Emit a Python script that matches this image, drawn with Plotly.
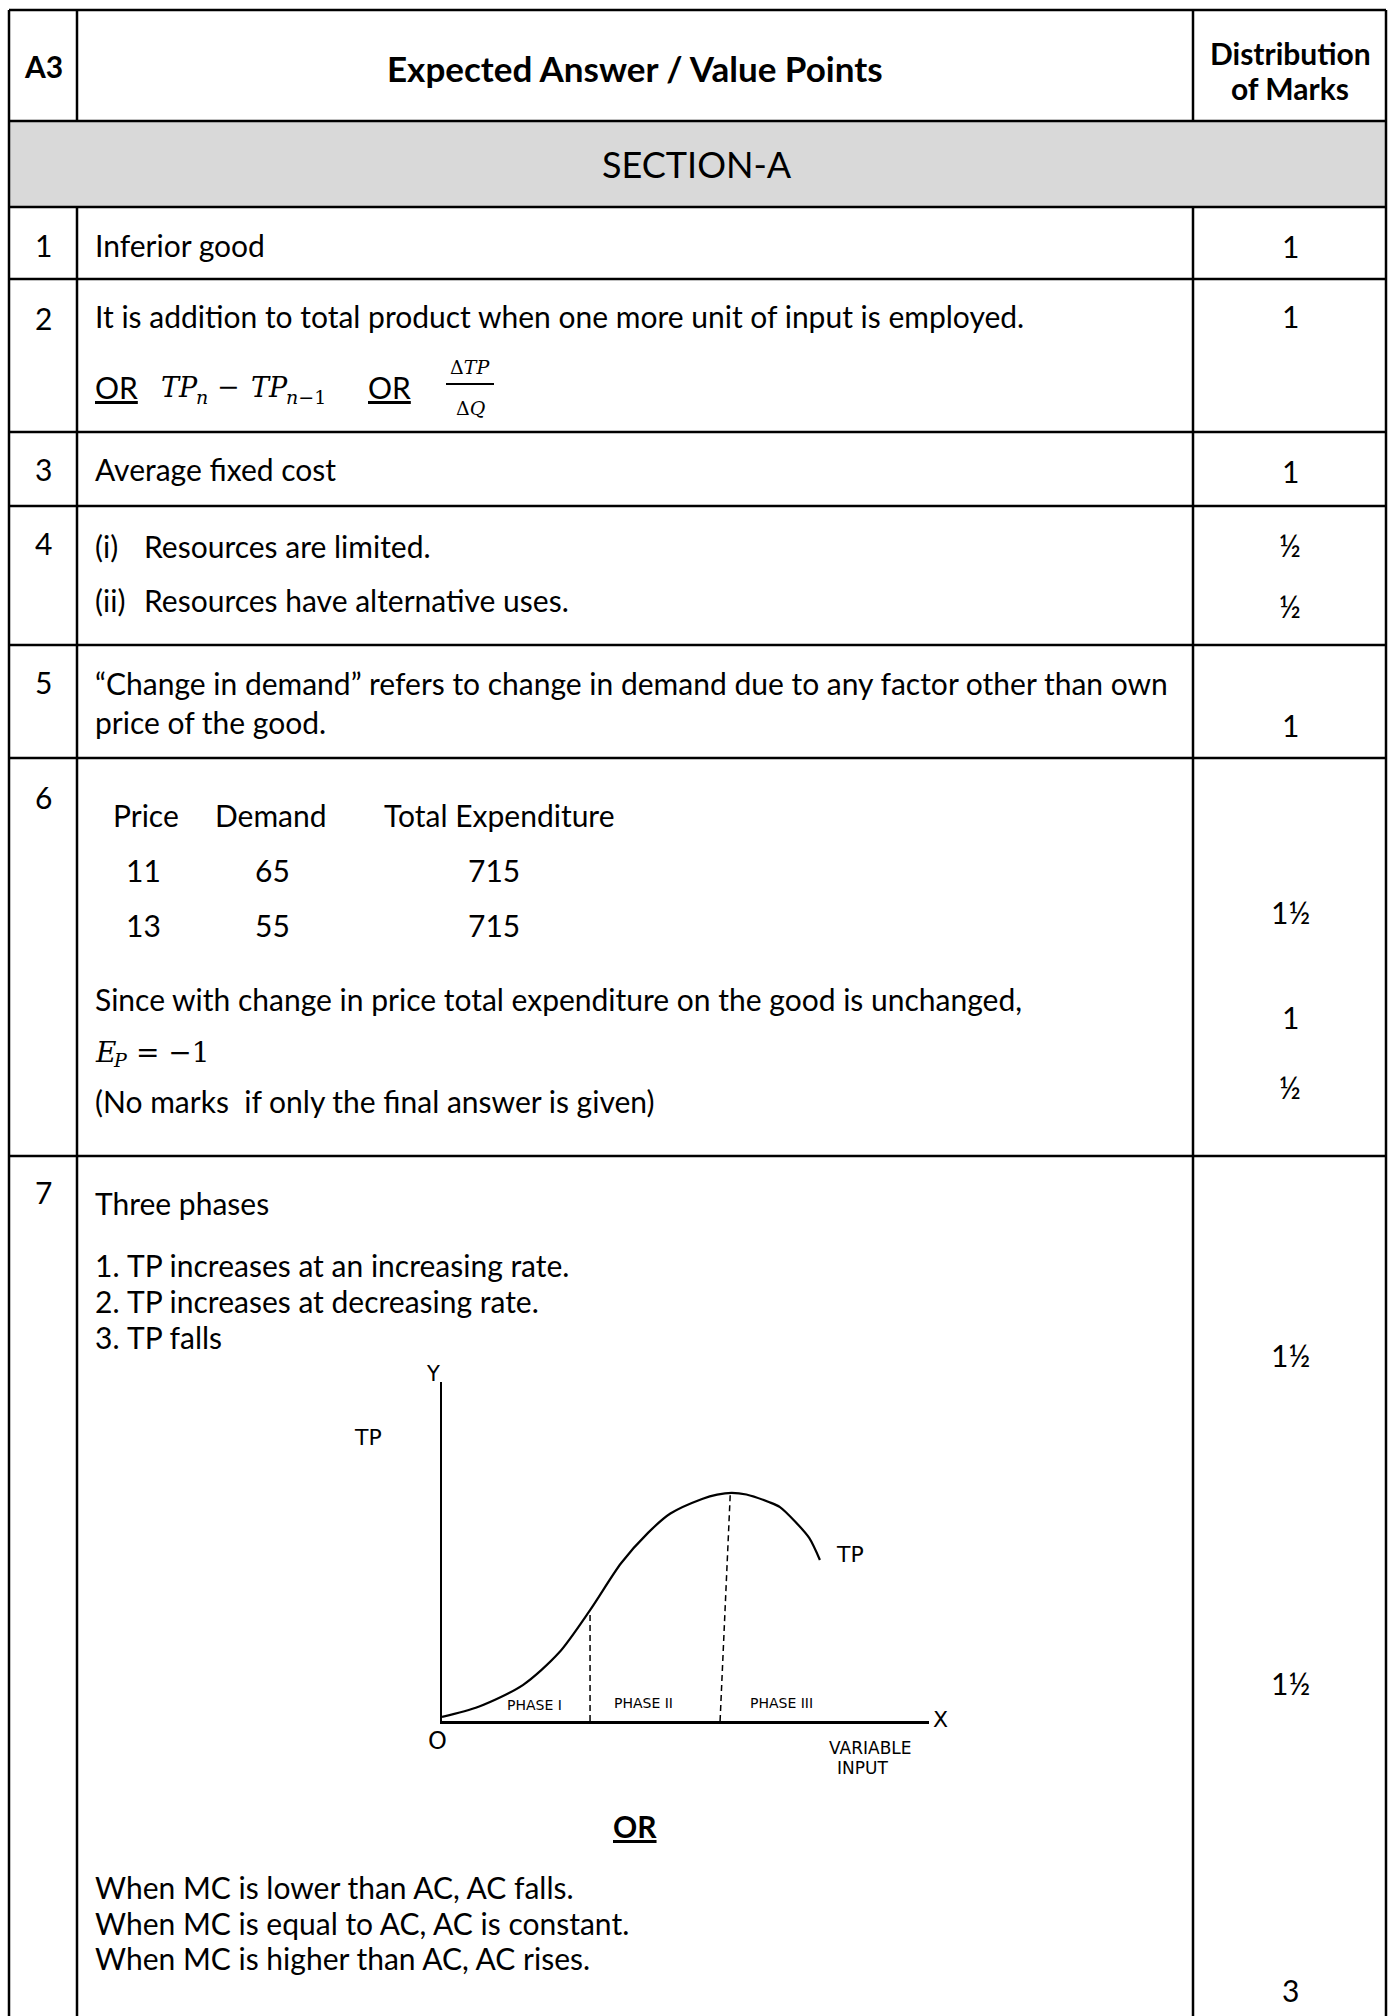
import plotly.graph_objects as go

W, H = 1391, 2016

# ---------------- data ----------------
question_nos = ["1", "2", "3", "4", "5", "6", "7"]

header_cells = ["A3", "Expected Answer / Value Points", "Distribution", "of Marks"]
section_title = "SECTION-A"

answers_simple = ["Inferior good",
                  "It is addition to total product when one more unit of input is employed.",
                  "Average fixed cost"]
q4_points = ["(i)", "(ii)"]
q4_texts = ["Resources are limited.", "Resources have alternative uses."]
q5_lines = ["\u201cChange in demand\u201d refers to change in demand due to any factor other than own",
            "price of the good."]
q6_columns = ["Price", "Demand", "Total Expenditure"]
q6_price = [11, 13]
q6_demand = [65, 55]
q6_expenditure = [715, 715]
q6_notes = ["Since with change in price total expenditure on the good is unchanged,",
            "(No marks  if only the final answer is given)"]
q7_intro = "Three phases"
q7_points = ["TP increases at an increasing rate.",
             "TP increases at decreasing rate.",
             "TP falls"]
q7_or_lines = ["When MC is lower than AC, AC falls.",
               "When MC is equal to AC, AC is constant.",
               "When MC is higher than AC, AC rises."]

marks_q1_q3 = ["1", "1", "1"]
marks_q4 = ["\u00bd", "\u00bd"]
marks_q5 = "1"
marks_q6 = ["1\u00bd", "1", "\u00bd"]
marks_q7 = ["1\u00bd", "1\u00bd", "3"]

# TP curve (variable input vs TP, arbitrary units)
tp_input = [0.0, 0.75, 1.66, 2.40, 3.04, 3.68, 4.23, 4.69, 5.34, 5.65, 5.95, 6.25, 6.71, 6.94, 7.26, 7.54, 7.76]
tp_output = [1.2, 4.2, 10.6, 20.1, 32.7, 46.6, 55.5, 61.2, 65.5, 66.8, 67.3, 66.8, 64.6, 63.1, 58.7, 54.0, 47.5]
phase_bound_base = [3.04, 5.71]
phase_bound_top = [3.04, 5.92]
phase_bound_tp = [32.7, 67.3]
phase_labels = ["PHASE I", "PHASE II", "PHASE III"]
axis_labels = ["Y", "TP", "O", "X", "VARIABLE", "INPUT"]
curve_label = "TP"

# ---------------- helpers ----------------
FONT = "Lato"
BODY = 30
MATH = "DejaVu Serif"
HAND = "DejaVu Sans"


def px(x):
    return x / W


def py(y):
    return 1 - y / H


annotations = []
shapes = []


def text(x, y, s, size=BODY, anchor="left", bold=False, family=FONT, yanchor="middle"):
    if bold:
        s = "<b>" + s + "</b>"
    annotations.append(dict(x=px(x), y=py(y), xref="paper", yref="paper", text=s,
                            showarrow=False, xanchor=anchor, yanchor=yanchor,
                            font=dict(family=family, size=size, color="black")))


def hline(y, x0, x1, w=2.5):
    shapes.append(dict(type="line", xref="paper", yref="paper", x0=px(x0), x1=px(x1),
                       y0=py(y), y1=py(y), line=dict(color="black", width=w)))


def vline(x, y0, y1, w=2.5):
    shapes.append(dict(type="line", xref="paper", yref="paper", x0=px(x), x1=px(x),
                       y0=py(y0), y1=py(y1), line=dict(color="black", width=w)))


# ---------------- table grid ----------------
XL, XC1, XC2, XR = 9, 77, 1193, 1386
TOP, HDR, SEC = 10, 121, 207
row_bottoms = [279, 432, 506, 645, 758, 1156]

shapes.append(dict(type="rect", xref="paper", yref="paper", x0=px(XL), x1=px(XR),
                   y0=py(SEC), y1=py(HDR), fillcolor="#d9d9d9", line=dict(width=0), layer="below"))
for yy in [TOP, HDR, SEC] + row_bottoms:
    hline(yy, XL, XR)
vline(XL, TOP, H)
vline(XR, TOP, H)
for xx in (XC1, XC2):
    vline(xx, TOP, HDR)
    vline(xx, SEC, H)

XN = 43          # question number column centre
XT = 93          # answer text left
XM = 1290        # marks column centre

# header
text(XN, 66, header_cells[0], size=30, anchor="center", bold=True)
text(635, 68, header_cells[1], size=35, anchor="center", bold=True)
text(XM, 53, header_cells[2], size=30, anchor="center", bold=True)
text(XM, 88, header_cells[3], size=30, anchor="center", bold=True)
text(697, 164, section_title, size=36, anchor="center")

# question numbers
q_y = [245, 318, 469, 543, 682, 797, 1192]
for q, yy in zip(question_nos, q_y):
    text(XN, yy, q, anchor="center")

# Q1-Q3
text(XT, 245, answers_simple[0])
text(XT, 316, answers_simple[1])
text(XT, 469, answers_simple[2])
for m, yy in zip(marks_q1_q3, [246, 316, 471]):
    text(XM, yy, m, anchor="center")

# Q2 formula line:  OR  TP_n - TP_(n-1)  OR  dTP/dQ
text(XT, 387, "<u>OR</u>")
text(159, 388, "<i>TP</i>", size=27, family=MATH)
text(194, 397, "<i>n</i>", size=19, family=MATH)
text(215, 387, "\u2212", size=27, family=MATH)
text(249, 388, "<i>TP</i>", size=27, family=MATH)
text(284, 397, "<i>n</i>\u22121", size=19, family=MATH)
text(366, 387, "<u>OR</u>")
text(470, 367, "\u0394<i>TP</i>", size=19, anchor="center", family=MATH)
text(470, 408, "\u0394<i>Q</i>", size=19, anchor="center", family=MATH)
hline(384, 446, 494, w=2)

# Q4
for p, t, yy in zip(q4_points, q4_texts, [546, 600]):
    text(XT, yy, p)
    text(142, yy, t)
for m, yy in zip(marks_q4, [545, 606]):
    text(XM, yy, m, anchor="center")

# Q5
text(XT, 683, q5_lines[0])
text(XT, 722, q5_lines[1])
text(XM, 725, marks_q5, anchor="center")

# Q6
for c, xx in zip(q6_columns, [111, 213, 382]):
    text(xx, 815, c)
for yy, p, d, e in zip([870, 925], q6_price, q6_demand, q6_expenditure):
    text(124, yy, str(p))
    text(253, yy, str(d))
    text(466, yy, str(e))
text(XT, 999, q6_notes[0])
text(XT, 1052, "<i>E</i>", size=28, family=MATH)
text(111, 1060, "<i>P</i>", size=19, family=MATH)
text(134, 1052, "= \u22121", size=28, family=MATH)
text(XT, 1101, q6_notes[1])
for m, yy in zip(marks_q6, [912, 1017, 1087]):
    text(XM, yy, m, anchor="center")

# Q7
text(XT, 1203, q7_intro)
for i, (t, yy) in enumerate(zip(q7_points, [1265, 1301, 1337])):
    text(XT, yy, f"{i + 1}.")
    text(125, yy, t)
text(635, 1826, "<u>OR</u>", anchor="center", bold=True)
for t, yy in zip(q7_or_lines, [1887, 1923, 1958]):
    text(XT, yy, t)
for m, yy in zip(marks_q7, [1355, 1683, 1990]):
    text(XM, yy, m, anchor="center")

# ---------------- TP diagram ----------------
fig = go.Figure()

fig.add_trace(go.Scatter(x=tp_input, y=tp_output, mode="lines",
                         line=dict(color="black", width=2.2, shape="spline", smoothing=0.8),
                         xaxis="x", yaxis="y", showlegend=False, hoverinfo="skip"))
for xb, xt, yt in zip(phase_bound_base, phase_bound_top, phase_bound_tp):
    fig.add_trace(go.Scatter(x=[xb, xt], y=[0, yt], mode="lines",
                             line=dict(color="black", width=1.5, dash="6px,4px"),
                             xaxis="x", yaxis="y", showlegend=False, hoverinfo="skip"))

# labels inside the plotting range: placed in data coordinates
for lab, xx, yy in zip(phase_labels, [1.89, 4.13, 6.98], [4.6, 5.2, 5.4]):
    annotations.append(dict(x=xx, y=yy, xref="x", yref="y", text=lab, showarrow=False,
                            xanchor="center", yanchor="middle",
                            font=dict(family=HAND, size=14, color="black")))
annotations.append(dict(x=8.05, y=49, xref="x", yref="y", text=curve_label, showarrow=False,
                        xanchor="left", yanchor="middle",
                        font=dict(family=HAND, size=22, color="black")))

# labels outside the axes: placed on the page
for lab, xx, yy, sz in zip(axis_labels,
                           [433, 368, 437, 940, 870, 862],
                           [1374, 1437, 1741, 1719, 1748, 1768],
                           [21, 22, 24, 22, 17, 17]):
    text(xx, yy, lab, size=sz, anchor="center", family=HAND)

fig.update_layout(
    width=W, height=H,
    margin=dict(l=0, r=0, t=0, b=0),
    paper_bgcolor="white", plot_bgcolor="rgba(0,0,0,0)",
    showlegend=False,
    xaxis=dict(domain=[px(442), px(929)], range=[0, 10], showline=True, linecolor="black",
               linewidth=2.5, showgrid=False, zeroline=False, showticklabels=False, ticks="",
               anchor="y", fixedrange=True),
    yaxis=dict(domain=[py(1721), py(1382)], range=[0, 100], showline=True, linecolor="black",
               linewidth=2.5, showgrid=False, zeroline=False, showticklabels=False, ticks="",
               anchor="x", fixedrange=True),
    annotations=annotations,
    shapes=shapes,
)

fig.write_html("out.html", config={"displayModeBar": False, "staticPlot": True},
               post_script="document.body.style.margin='0';")
